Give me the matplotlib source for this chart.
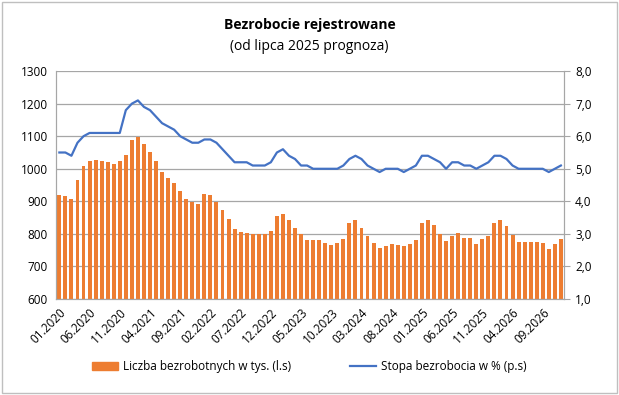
import matplotlib.pyplot as plt
from matplotlib.patches import Patch, Rectangle
from matplotlib.lines import Line2D

plt.rcParams['font.family'] = ['Open Sans', 'DejaVu Sans']

# months 01.2020 .. 12.2026
months = [f"{m:02d}.{y}" for y in range(2020, 2027) for m in range(1, 13)]

# unemployed, thousands (left axis)
unemployed = [920, 916, 907, 965, 1008, 1023, 1027, 1024, 1021, 1014, 1023, 1042,
              1088, 1098, 1076, 1052, 1023, 990, 972, 956, 932, 907, 897, 892,
              922, 919, 898, 873, 845, 815, 805, 802, 800, 800, 800, 810,
              855, 862, 843, 818, 800, 780, 780, 780, 773, 767, 771, 785,
              834, 843, 818, 795, 773, 757, 763, 770, 767, 763, 770, 782,
              835, 843, 827, 800, 779, 795, 803, 787, 787, 770, 785, 795,
              834, 843, 825, 797, 776, 776, 776, 776, 773, 754, 770, 785]

# unemployment rate, % (right axis)
rate = [5.5, 5.5, 5.4, 5.8, 6.0, 6.1, 6.1, 6.1, 6.1, 6.1, 6.1, 6.8,
        7.0, 7.1, 6.9, 6.8, 6.6, 6.4, 6.3, 6.2, 6.0, 5.9, 5.8, 5.8,
        5.9, 5.9, 5.8, 5.6, 5.4, 5.2, 5.2, 5.2, 5.1, 5.1, 5.1, 5.2,
        5.5, 5.6, 5.4, 5.3, 5.1, 5.1, 5.0, 5.0, 5.0, 5.0, 5.0, 5.1,
        5.3, 5.4, 5.3, 5.1, 5.0, 4.9, 5.0, 5.0, 5.0, 4.9, 5.0, 5.1,
        5.4, 5.4, 5.3, 5.2, 5.0, 5.2, 5.2, 5.1, 5.1, 5.0, 5.1, 5.2,
        5.4, 5.4, 5.3, 5.1, 5.0, 5.0, 5.0, 5.0, 5.0, 4.9, 5.0, 5.1]

orange = '#ED7D31'
blue = '#4472C4'
grid_c = '#A6A6A6'

fig = plt.figure(figsize=(6.19, 3.95), dpi=100)
fig.patches.append(Rectangle((0.003, 0.004), 0.994, 0.99, transform=fig.transFigure,
                             fill=False, edgecolor='#BFBFBF', linewidth=1))

ax = fig.add_axes([0.091, 0.243, 0.820, 0.577])
x = list(range(len(months)))
ax.bar(x, unemployed, width=0.65, color=orange, zorder=2)
ax.set_ylim(600, 1300)
ax.set_yticks(range(600, 1301, 100))
ax.set_xlim(-0.5, len(months) - 0.5)
ax.grid(axis='y', color=grid_c, linewidth=0.9, zorder=0)
ax.set_xticks(x[::5])
ax.set_xticklabels(months[::5], rotation=45, ha='right', rotation_mode='anchor')
ax.tick_params(axis='x', length=0, labelsize=8.5, pad=5)
ax.tick_params(axis='y', length=0, labelsize=8.5, pad=6)
ax.spines['top'].set_visible(False)
for s in ['left', 'bottom', 'right']:
    ax.spines[s].set_color(grid_c)

ax2 = ax.twinx()
ax2.plot(x, rate, color=blue, linewidth=1.6, zorder=3, solid_joinstyle='round')
ax2.set_ylim(1, 8)
ax2.set_yticks(range(1, 9))
ax2.set_yticklabels([f"{v},0" for v in range(1, 9)])
ax2.tick_params(axis='y', length=4, color=grid_c, labelsize=8.5, pad=4)
ax2.spines['top'].set_visible(False)
for s in ['left', 'bottom', 'right']:
    ax2.spines[s].set_color(grid_c)

fig.text(0.5, 0.937, 'Bezrobocie rejestrowane', ha='center', va='center',
         fontsize=10, fontweight='bold')
fig.text(0.5, 0.883, '(od lipca 2025 prognoza)', ha='center', va='center', fontsize=10)

handles = [Patch(color=orange), Line2D([], [], color=blue, linewidth=1.6)]
labels = ['Liczba bezrobotnych w tys. (l.s)', 'Stopa bezrobocia w % (p.s)']
fig.legend(handles, labels, loc='center', bbox_to_anchor=(0.5, 0.071), ncol=2,
           frameon=False, fontsize=8.5, handlelength=2.2, handletextpad=0.4,
           columnspacing=5)

fig.savefig('out.png', dpi=100)
